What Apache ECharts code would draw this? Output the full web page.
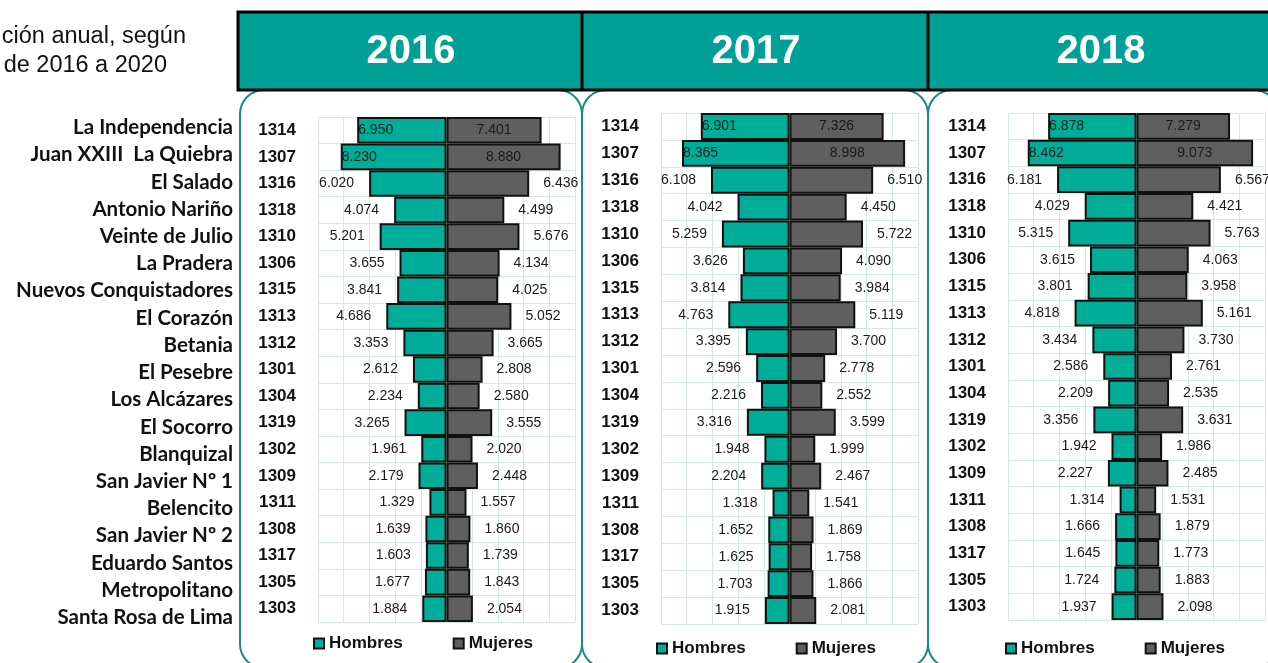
<!DOCTYPE html>
<html>
<head>
<meta charset="utf-8">
<script src="https://cdn.jsdelivr.net/npm/echarts@6/dist/echarts.min.js"></script>
<style>
html, body { margin: 0; padding: 0; background: #fff; }
#main { width: 1268px; height: 663px; }
</style>
</head>
<body>
<div id="main"></div>
<script>
// barrios y códigos de comuna (de arriba a abajo)
var barrios = ['La Independencia', 'Juan XXIII  La Quiebra', 'El Salado', 'Antonio Nariño', 'Veinte de Julio',
  'La Pradera', 'Nuevos Conquistadores', 'El Corazón', 'Betania', 'El Pesebre', 'Los Alcázares', 'El Socorro',
  'Blanquizal', 'San Javier Nº 1', 'Belencito', 'San Javier Nº 2', 'Eduardo Santos', 'Metropolitano', 'Santa Rosa de Lima'];
var codigos = ['1314', '1307', '1316', '1318', '1310', '1306', '1315', '1313', '1312', '1301',
  '1304', '1319', '1302', '1309', '1311', '1308', '1317', '1305', '1303'];
var years = ['2016', '2017', '2018'];

var hombres2016 = [6950, 8230, 6020, 4074, 5201, 3655, 3841, 4686, 3353, 2612, 2234, 3265, 1961, 2179, 1329, 1639, 1603, 1677, 1884];
var mujeres2016 = [7401, 8880, 6436, 4499, 5676, 4134, 4025, 5052, 3665, 2808, 2580, 3555, 2020, 2448, 1557, 1860, 1739, 1843, 2054];
var hombres2017 = [6901, 8365, 6108, 4042, 5259, 3626, 3814, 4763, 3395, 2596, 2216, 3316, 1948, 2204, 1318, 1652, 1625, 1703, 1915];
var mujeres2017 = [7326, 8998, 6510, 4450, 5722, 4090, 3984, 5119, 3700, 2778, 2552, 3599, 1999, 2467, 1541, 1869, 1758, 1866, 2081];
var hombres2018 = [6878, 8462, 6181, 4029, 5315, 3615, 3801, 4818, 3434, 2586, 2209, 3356, 1942, 2227, 1314, 1666, 1645, 1724, 1937];
var mujeres2018 = [7279, 9073, 6567, 4421, 5763, 4063, 3958, 5161, 3730, 2761, 2535, 3631, 1986, 2485, 1531, 1879, 1773, 1883, 2098];

var hombres = [hombres2016, hombres2017, hombres2018];
var mujeres = [mujeres2016, mujeres2017, mujeres2018];

var TEAL = '#00AD98';
var GRAY = '#5F5F60';
var ARIAL = 'Arial, "Liberation Sans", sans-serif';

function miles(v) {
  return String(Math.abs(v)).replace(/\B(?=(\d{3})+(?!\d))/g, '.');
}

// posiciones de cada pirámide
var grids = [
  { left: 318, top: 117, width: 257, height: 505 },
  { left: 661, top: 113, width: 257, height: 511 },
  { left: 1008, top: 113, width: 257, height: 507 }
];
var legendPos = [{ left: 308, top: 630 }, { left: 651, top: 635 }, { left: 1000, top: 635 }];

var option = {
  animation: false,
  grid: [],
  xAxis: [],
  yAxis: [],
  series: [],
  legend: [],
  graphic: []
};

// texto oscuro también dentro de las barras
var richLabel = { d: { color: '#1a1a1a', fontFamily: ARIAL, fontSize: 14, textBorderWidth: 0 } };
function fmt(p) { return '{d|' + miles(p.value) + '}'; }

grids.forEach(function (g, i) {
  option.grid.push(g);
  option.xAxis.push({
    type: 'value', gridIndex: i, min: -10000, max: 10000, interval: 2000,
    axisLabel: { show: false }, axisLine: { show: false }, axisTick: { show: false },
    splitLine: { show: true, lineStyle: { color: '#D6E8E6', width: 1 } }
  });
  option.yAxis.push({
    type: 'category', gridIndex: i, inverse: true, data: codigos,
    axisLine: { show: false, onZero: false }, axisTick: { show: false },
    axisLabel: { interval: 0, margin: 22, color: '#111', fontFamily: ARIAL, fontWeight: 'bold', fontSize: 17 },
    splitLine: { show: true, interval: 0, lineStyle: { color: '#D6E8E6', width: 1 } }
  });
  option.series.push({
    name: 'Hombres', type: 'bar', xAxisIndex: i, yAxisIndex: i,
    barGap: '-100%', barCategoryGap: 0,
    itemStyle: { color: TEAL, borderColor: '#111', borderWidth: 2 },
    label: {
      show: true, position: 'left', distance: 15, color: '#1a1a1a', textBorderWidth: 0,
      fontFamily: ARIAL, fontSize: 14, formatter: fmt, rich: richLabel
    },
    data: hombres[i].map(function (v) {
      if (v > 6500) return { value: -v, label: { position: 'insideLeft', distance: 1 } };
      return -v;
    })
  });
  option.series.push({
    name: 'Mujeres', type: 'bar', xAxisIndex: i, yAxisIndex: i,
    barGap: '-100%', barCategoryGap: 0,
    itemStyle: { color: GRAY, borderColor: '#111', borderWidth: 2 },
    label: {
      show: true, position: 'right', distance: 14, color: '#1a1a1a', textBorderWidth: 0,
      fontFamily: ARIAL, fontSize: 14, formatter: fmt, rich: richLabel
    },
    data: mujeres[i].map(function (v) {
      if (v > 7000) return { value: v, label: { position: 'inside' } };
      return v;
    })
  });
  option.legend.push({
    left: legendPos[i].left, top: legendPos[i].top, orient: 'horizontal',
    data: ['Hombres', 'Mujeres'], icon: 'rect', itemWidth: 10, itemHeight: 10, itemGap: 50,
    selectedMode: false,
    textStyle: { fontFamily: ARIAL, fontWeight: 'bold', fontSize: 17, color: '#111' }
  });
});

// columna de nombres de barrios
option.grid.push({ left: 234, top: 114, width: 1, height: 517 });
option.xAxis.push({ type: 'value', gridIndex: 3, min: 0, max: 1, show: false });
option.yAxis.push({
  type: 'category', gridIndex: 3, inverse: true, data: barrios,
  axisLine: { show: false }, axisTick: { show: false }, splitLine: { show: false },
  axisLabel: { interval: 0, margin: 1, color: '#111', fontFamily: 'Lato, "Open Sans", sans-serif', fontWeight: 'bold', fontSize: 20.5 }
});

// marcos redondeados
var panels = [[240, 342], [582, 346], [928, 350]];
panels.forEach(function (p) {
  option.graphic.push({
    type: 'rect', z: 1,
    shape: { x: p[0], y: 90, width: p[1], height: 578, r: 24 },
    style: { fill: 'none', stroke: '#1B8A85', lineWidth: 2 }
  });
});

// banda de encabezado
option.graphic.push({
  type: 'rect', z: 2,
  shape: { x: 238, y: 12, width: 1034, height: 78 },
  style: { fill: '#00A096', stroke: '#000', lineWidth: 3 }
});
[582, 928].forEach(function (x) {
  option.graphic.push({
    type: 'line', z: 3,
    shape: { x1: x, y1: 12, x2: x, y2: 90 },
    style: { stroke: '#000', lineWidth: 3 }
  });
});
var yearX = [411, 756, 1101];
years.forEach(function (y, i) {
  option.graphic.push({
    type: 'text', z: 4, x: yearX[i], y: 52,
    style: {
      text: y, fill: '#fff', font: 'bold 40px ' + ARIAL,
      align: 'center', verticalAlign: 'middle', textAlign: 'center', textVerticalAlign: 'middle'
    }
  });
});

// título recortado
option.graphic.push({
  type: 'text', x: 186, y: 37,
  style: { text: 'ción anual, según', fill: '#111', font: '23.5px ' + ARIAL, align: 'right', verticalAlign: 'middle', textAlign: 'right', textVerticalAlign: 'middle' }
});
option.graphic.push({
  type: 'text', x: 167, y: 66,
  style: { text: 'de 2016 a 2020', fill: '#111', font: '23.5px ' + ARIAL, align: 'right', verticalAlign: 'middle', textAlign: 'right', textVerticalAlign: 'middle' }
});

var chart = echarts.init(document.getElementById('main'));
chart.setOption(option);
</script>
</body>
</html>
